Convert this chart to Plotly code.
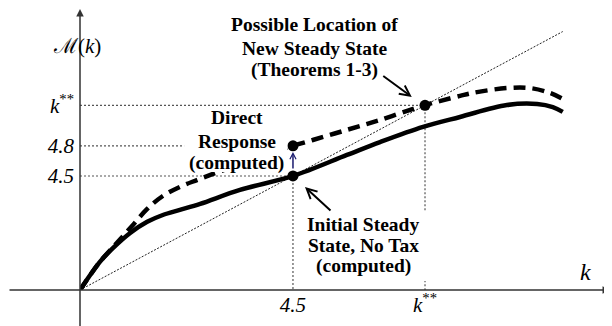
import plotly.graph_objects as go

# M(k) without tax (solid) and the direct response to the tax (dashed)
solid_k = [0, 0.42, 0.70, 1.06, 1.42, 1.75, 2.11, 2.54, 3.38, 4.5, 5.64, 6.34, 7.25, 8.03, 9.02, 9.66, 9.99, 10.20]
solid_m = [0, 1.11, 1.66, 2.25, 2.69, 2.96, 3.16, 3.40, 3.95, 4.5, 5.33, 5.84, 6.44, 6.83, 7.30, 7.34, 7.22, 7.03]

dashed_k = [0, 0.42, 0.70, 0.91, 1.12, 1.42, 1.75, 2.11, 2.47, 2.81, 3.38, 3.91, 4.5,
            4.92, 5.64, 6.34, 7.04, 7.29, 8.03, 8.30, 9.02, 9.51, 9.93, 10.20]
dashed_m = [0, 1.11, 1.70, 2.13, 2.57, 3.20, 3.71, 4.07, 4.34, 4.58, 4.97, 5.33, 5.69,
            5.92, 6.32, 6.71, 7.15, 7.30, 7.66, 7.78, 7.97, 7.97, 7.78, 7.54]

k_ss = 4.5       # initial steady state
m_direct = 5.69  # where the 4.8 level is drawn (schematic)
k_new = 7.29     # k**
diag_end = 10.2

x_tickvals = [k_ss, k_new]
x_ticktext = ["<i>4.5</i>", "<i>k</i><sup>**</sup>"]
y_tickvals = [k_ss, m_direct, k_new]
y_ticktext = ["<i>4.5</i>", "<i>4.8</i>", "<i>k</i><sup>**</sup>"]

# text blocks: (lines, x, y of each line)
notes = [
    (["Possible Location of", "New Steady State", "(Theorems 1-3)"], 4.965, [10.46, 9.55, 8.69]),
    (["Direct", "Response", "(computed)"], 3.317, [6.79, 5.88, 5.01]),
    (["Initial Steady", "State, No Tax", "(computed)"], 5.98, [2.57, 1.74, 0.95]),
]

serif = "Liberation Serif"
guide = dict(color="#555", width=1.2, dash="2px,2px")

fig = go.Figure()
fig.add_trace(go.Scatter(x=[0, diag_end], y=[0, diag_end], mode="lines",
                         line=dict(color="#222", width=1, dash="2px,1.5px")))
fig.add_trace(go.Scatter(x=[0, k_ss, k_ss], y=[k_ss, k_ss, 0], mode="lines", line=guide))
fig.add_trace(go.Scatter(x=[0, k_ss], y=[m_direct, m_direct], mode="lines", line=guide))
fig.add_trace(go.Scatter(x=[0, k_new, k_new], y=[k_new, k_new, 0], mode="lines", line=guide))
fig.add_trace(go.Scatter(x=solid_k, y=solid_m, mode="lines",
                         line=dict(color="black", width=4.5, shape="spline")))
fig.add_trace(go.Scatter(x=dashed_k, y=dashed_m, mode="lines",
                         line=dict(color="black", width=4.5, dash="12px,7px", shape="spline")))
fig.add_trace(go.Scatter(x=[k_ss, k_ss, k_new], y=[k_ss, m_direct, k_new], mode="markers",
                         marker=dict(color="black", size=11)))

# white backgrounds behind the text blocks
fig.add_shape(type="rect", x0=2.2, x1=4.38, y0=4.66, y1=7.2,
              fillcolor="white", line_width=0, layer="above")
fig.add_shape(type="rect", x0=4.56, x1=7.4, y0=0.36, y1=3.08,
              fillcolor="white", line_width=0, layer="above")

txt = dict(family=serif, size=19.5, color="black")
for lines, xc, ys in notes:
    for line, yc in zip(lines, ys):
        fig.add_annotation(x=xc, y=yc, text="<b>" + line + "</b>", showarrow=False, font=txt)

# arrows
fig.add_annotation(x=7.01, y=7.62, ax=-30, ay=-22, text="", showarrow=True,
                   arrowhead=5, arrowsize=1, arrowwidth=2, arrowcolor="black")
fig.add_annotation(x=4.754, y=4.066, ax=27, ay=25, text="", showarrow=True,
                   arrowhead=5, arrowsize=1, arrowwidth=2, arrowcolor="black")
fig.add_annotation(x=k_ss, y=5.45, ax=k_ss, ay=4.74, axref="x", ayref="y", text="",
                   showarrow=True, arrowhead=5, arrowsize=0.8, arrowwidth=1.5, arrowcolor="#1a1a6e")

# axis lines with arrow tips
fig.add_annotation(x=0.9815, y=0, xref="paper", yref="paper", ax=-610, ay=0, text="",
                   showarrow=True, arrowhead=2, arrowsize=1, arrowwidth=1.5, arrowcolor="#333")
fig.add_annotation(x=0, y=1.0, xref="paper", yref="paper", ax=0, ay=326, text="",
                   showarrow=True, arrowhead=2, arrowsize=1, arrowwidth=1.5, arrowcolor="#333")

# axis labels
fig.add_annotation(x=-0.0537, y=0.915, xref="paper", yref="paper", text="ℳ(<i>k</i>)",
                   showarrow=False, font=dict(family=serif, size=21, color="black"))
fig.add_annotation(x=10.69, y=0.71, text="<i>k</i>", showarrow=False,
                   font=dict(family=serif, size=24, color="black"))

fig.update_layout(
    width=612, height=326,
    margin=dict(l=72, r=0, t=0, b=44),
    plot_bgcolor="white", paper_bgcolor="white",
    showlegend=False,
    xaxis=dict(range=[0, 11.41], showgrid=False, zeroline=False, showline=False, ticks="",
               automargin=False, tickvals=x_tickvals, ticktext=x_ticktext,
               tickfont=dict(family=serif, size=21, color="black")),
    yaxis=dict(range=[0, 11.13], showgrid=False, zeroline=False, showline=False, ticks="",
               automargin=False, tickvals=y_tickvals, ticktext=y_ticktext, ticklabelstandoff=5,
               tickfont=dict(family=serif, size=21, color="black")),
)

fig.write_html("out.html")
